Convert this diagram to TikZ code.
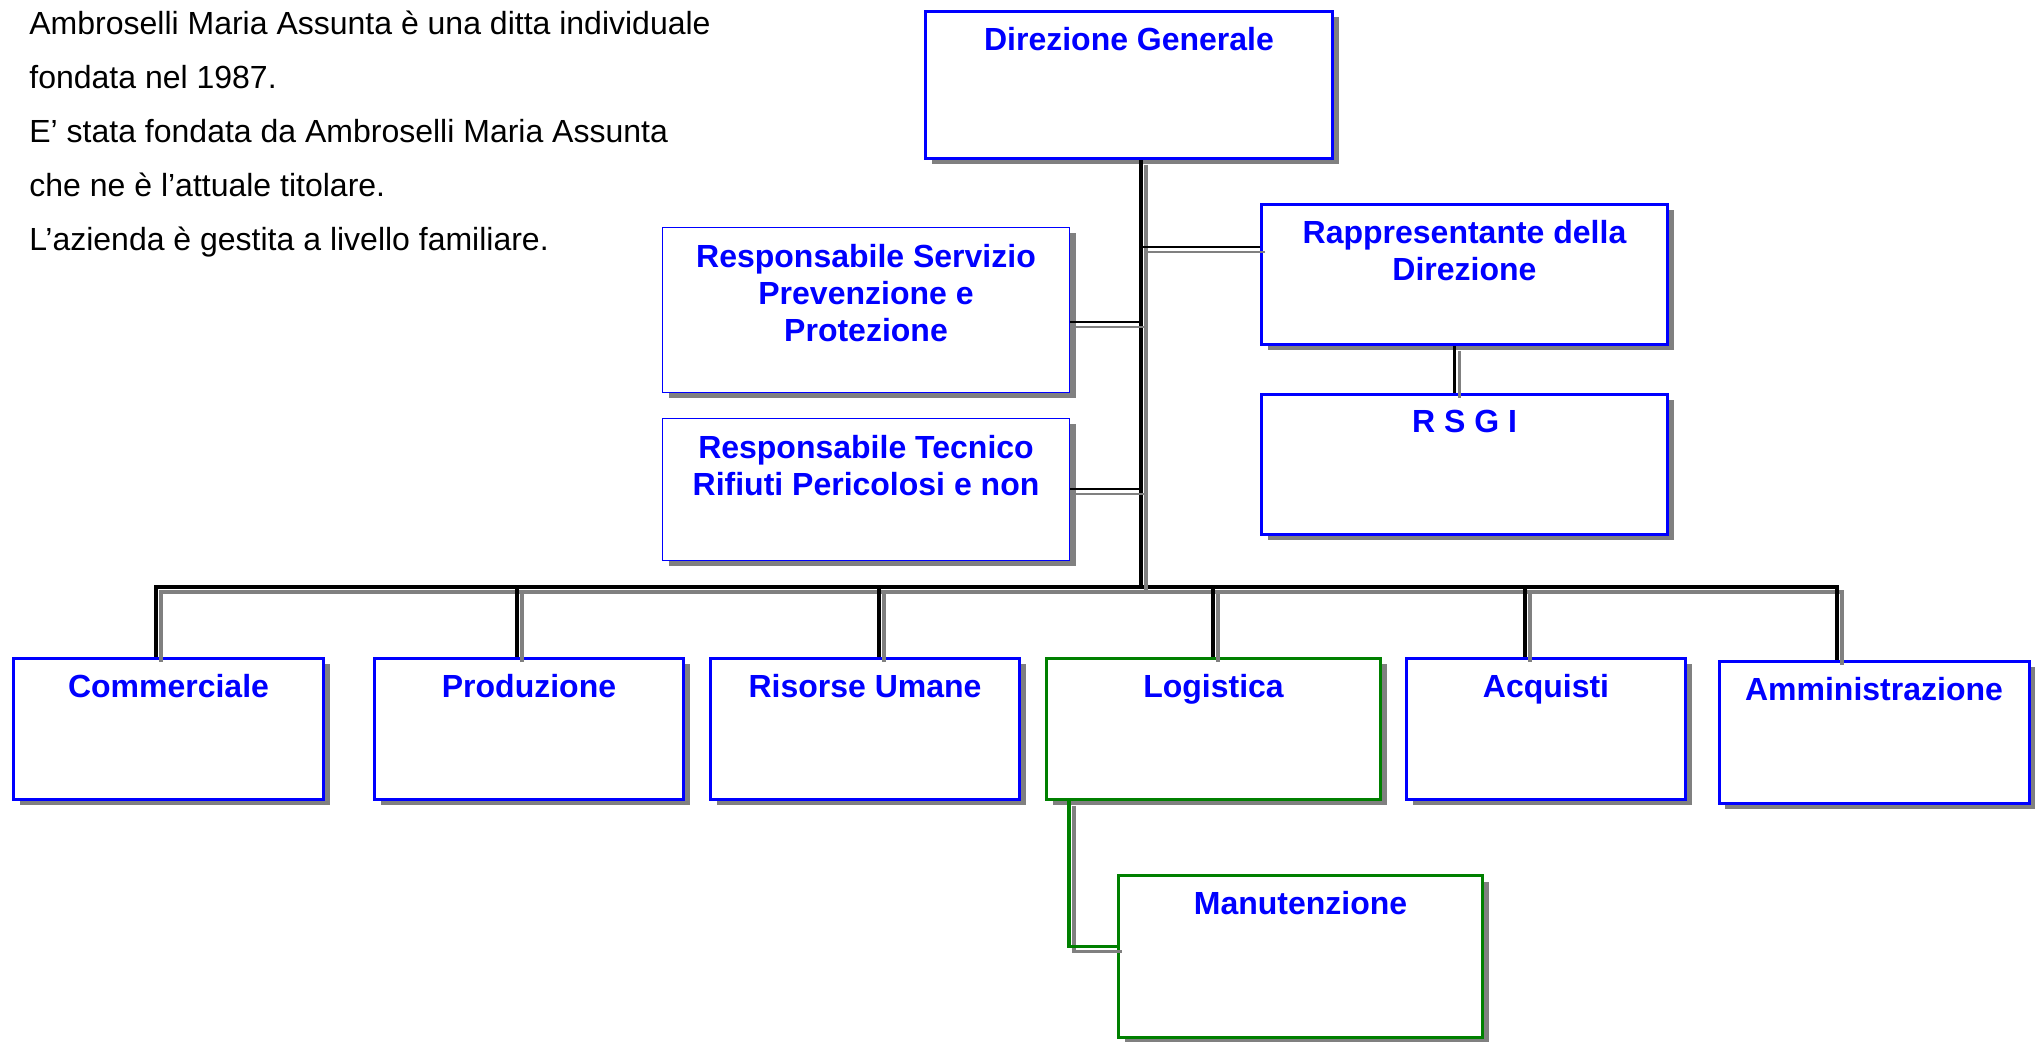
\documentclass[tikz,border=0pt]{standalone}
\usepackage{fontspec}
\setmainfont{Liberation Sans}
\usetikzlibrary{shadows}

\colorlet{unitline}{blue}
\colorlet{maintline}{green!50!black}
\colorlet{shade}{gray}

\begin{document}
\begin{tikzpicture}[x=0.5pt, y=-0.5pt,
  unit/.style={rectangle, draw=unitline, line width=1.5pt, fill=white, inner sep=0pt,
    drop shadow={shadow xshift=3pt, shadow yshift=-3pt, fill=shade, opacity=1}},
  staff/.style={unit, line width=0.7pt},
  maint/.style={unit, draw=maintline},
  title/.style={font=\bfseries\fontsize{16}{18.5}\selectfont, text=blue, align=center, inner sep=0pt},
  about/.style={font=\fontsize{16}{27}\selectfont, align=left, inner sep=0pt},
  link/.style={line width=#1, preaction={draw=shade, line width=#1, transform canvas={shift={(2.5pt,-2.5pt)}}}},
  link/.default=1.6pt,
  thinlink/.style={link=1pt}]
  \useasboundingbox (0, 0) rectangle (2036, 1042);

  \draw (29, 11) node[about, anchor=north west] (intro) {Ambroselli Maria Assunta è una ditta individuale\\fondata nel 1987.\\E’ stata fondata da Ambroselli Maria Assunta\\che ne è l’attuale titolare.\\L’azienda è gestita a livello familiare.};

  \draw (1129, 85)     node[unit, minimum width=203.5pt, minimum height=73.5pt] (dg) {};
  \draw (1464.5, 274.5) node[unit, minimum width=203pt, minimum height=70pt] (rapp) {};
  \draw (1464.5, 464.5) node[unit, minimum width=203pt, minimum height=70pt] (rsgi) {};
  \draw (866, 310)     node[staff, minimum width=203.5pt, minimum height=82.5pt] (rspp) {};
  \draw (866, 489.5)   node[staff, minimum width=203.5pt, minimum height=71pt] (rt) {};
  \draw (168.5, 729)   node[unit, minimum width=155pt, minimum height=70.5pt] (comm) {};
  \draw (529, 729)     node[unit, minimum width=154.5pt, minimum height=70.5pt] (prod) {};
  \draw (865, 729)     node[unit, minimum width=154.5pt, minimum height=70.5pt] (ris) {};
  \draw (1213.5, 729)  node[maint, minimum width=167pt, minimum height=70.5pt] (log) {};
  \draw (1546, 729)    node[unit, minimum width=139.5pt, minimum height=70.5pt] (acq) {};
  \draw (1874, 732.5)  node[unit, minimum width=155pt, minimum height=71pt] (amm) {};
  \draw (1300.5, 956.5) node[maint, minimum width=182pt, minimum height=81pt] (man) {};

  \draw (dg.north)   node[title, below=8.5pt] (dgtext) {Direzione Generale};
  \draw (rapp.north) node[title, below=8.5pt] (rapptext) {Rappresentante della\\Direzione};
  \draw (rsgi.north) node[title, below=8.5pt] (rsgitext) {R S G I};
  \draw (rspp.north) node[title, below=8.5pt] (rspptext) {Responsabile Servizio\\Prevenzione e\\Protezione};
  \draw (rt.north)   node[title, below=8.5pt] (rttext) {Responsabile Tecnico\\Rifiuti Pericolosi e non};
  \draw (comm.north) node[title, below=8.5pt] (commtext) {Commerciale};
  \draw (prod.north) node[title, below=8.5pt] (prodtext) {Produzione};
  \draw (ris.north)  node[title, below=8.5pt] (ristext) {Risorse Umane};
  \draw (log.north)  node[title, below=8.5pt] (logtext) {Logistica};
  \draw (acq.north)  node[title, below=8.5pt] (acqtext) {Acquisti};
  \draw (amm.north)  node[title, below=8.5pt] (ammtext) {Amministrazione};
  \draw (man.north)  node[title, below=8.5pt] (mantext) {Manutenzione};

  \coordinate (trunk) at (1141, 587);
  \coordinate (bus1) at (156, 587);
  \coordinate (bus7) at (1837, 587);
  \foreach \x/\n in {517/prod, 879/ris, 1213/log, 1525/acq}
    \coordinate (j\n) at (\x, 587);

  \draw[link] (bus1 |- comm.north) -- (bus1) -- (bus7) -- (bus7 |- amm.north);
  \foreach \n in {prod, ris, log, acq}
    \draw[link] (j\n) -- (j\n |- \n.north);
  \draw[link] (dg.south -| trunk) -- (trunk);
  \draw[thinlink] ([yshift=-22pt]rapp.north west) -- ([yshift=-22pt]rapp.north west -| trunk);
  \draw[thinlink] ([yshift=-6pt]rspp.east) -- ([yshift=-6pt]rspp.east -| trunk);
  \draw[thinlink] (rt.east) -- (rt.east -| trunk);
  \draw[link] ([xshift=-5pt]rapp.south) -- ([xshift=-5pt]rapp.south |- rsgi.north);
  \draw[link, color=maintline] ([xshift=12pt]log.south west) |- ([yshift=5pt]man.west);
\end{tikzpicture}
\end{document}
